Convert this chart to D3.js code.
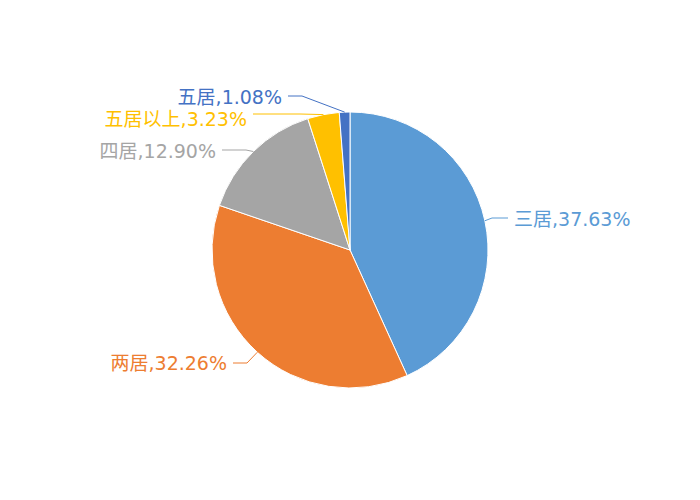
<!DOCTYPE html>
<html><head><meta charset="utf-8">
<script src="https://cdn.jsdelivr.net/npm/d3@7/dist/d3.min.js"></script>
<style>body{margin:0;background:#fff}svg{display:block}</style>
</head><body>
<svg id="c" width="700" height="500"></svg>
<script>
const categories = ["三居", "两居", "四居", "五居以上", "五居"];
const values = [37.63, 32.26, 12.90, 3.23, 1.08];
const colors = ["#5B9BD5", "#ED7D31", "#A5A5A5", "#FFC000", "#4472C4"];

// label layout: elbow and line end points (layout only)
const labelLayout = [
  {ex: 492, ey: 218, lx: 508, ly: 218, ty: 219, anchor: "start"},
  {ex: 247, ey: 363, lx: 233, ly: 363, ty: 363, anchor: "end"},
  {ex: 246, ey: 150, lx: 222, ly: 150, ty: 151, anchor: "end"},
  {ex: 300, ey: 114, lx: 253, ly: 114, ty: 119.5, anchor: "end"},
  {ex: 302, ey: 96,  lx: 288, ly: 96,  ty: 97, anchor: "end"}
];

const svg = d3.select("#c");
const cx = 350, cy = 250, r = 138;
const data = categories.map((c, i) => ({cat: c, val: values[i], i}));
const pie = d3.pie().sort(null).value(d => d.val);
const arcs = pie(data);
const arc = d3.arc().innerRadius(0).outerRadius(r);
const g = svg.append("g").attr("transform", `translate(${cx},${cy})`);
g.selectAll("path.s").data(arcs).enter().append("path")
  .attr("d", arc).attr("fill", d => colors[d.data.i])
  .attr("stroke", "#fff").attr("stroke-width", 1);

const outer = d3.arc().innerRadius(r).outerRadius(r);
arcs.forEach((a, i) => {
  const [px, py] = outer.centroid(a);
  const L = labelLayout[i];
  svg.append("polyline")
    .attr("points", [[cx + px, cy + py], [L.ex, L.ey], [L.lx, L.ly]].map(p => p.join(",")).join(" "))
    .attr("fill", "none").attr("stroke", colors[i]).attr("stroke-width", 1);
  svg.append("text")
    .attr("x", L.anchor === "start" ? L.lx + 6 : L.lx - 6)
    .attr("y", L.ty).attr("dy", "0.35em")
    .attr("text-anchor", L.anchor)
    .attr("fill", colors[i])
    .attr("font-family", "'DejaVu Sans', 'Noto Sans CJK SC', sans-serif")
    .attr("font-size", 19)
    .text(`${categories[i]},${values[i].toFixed(2)}%`);
});
</script>
</body></html>
